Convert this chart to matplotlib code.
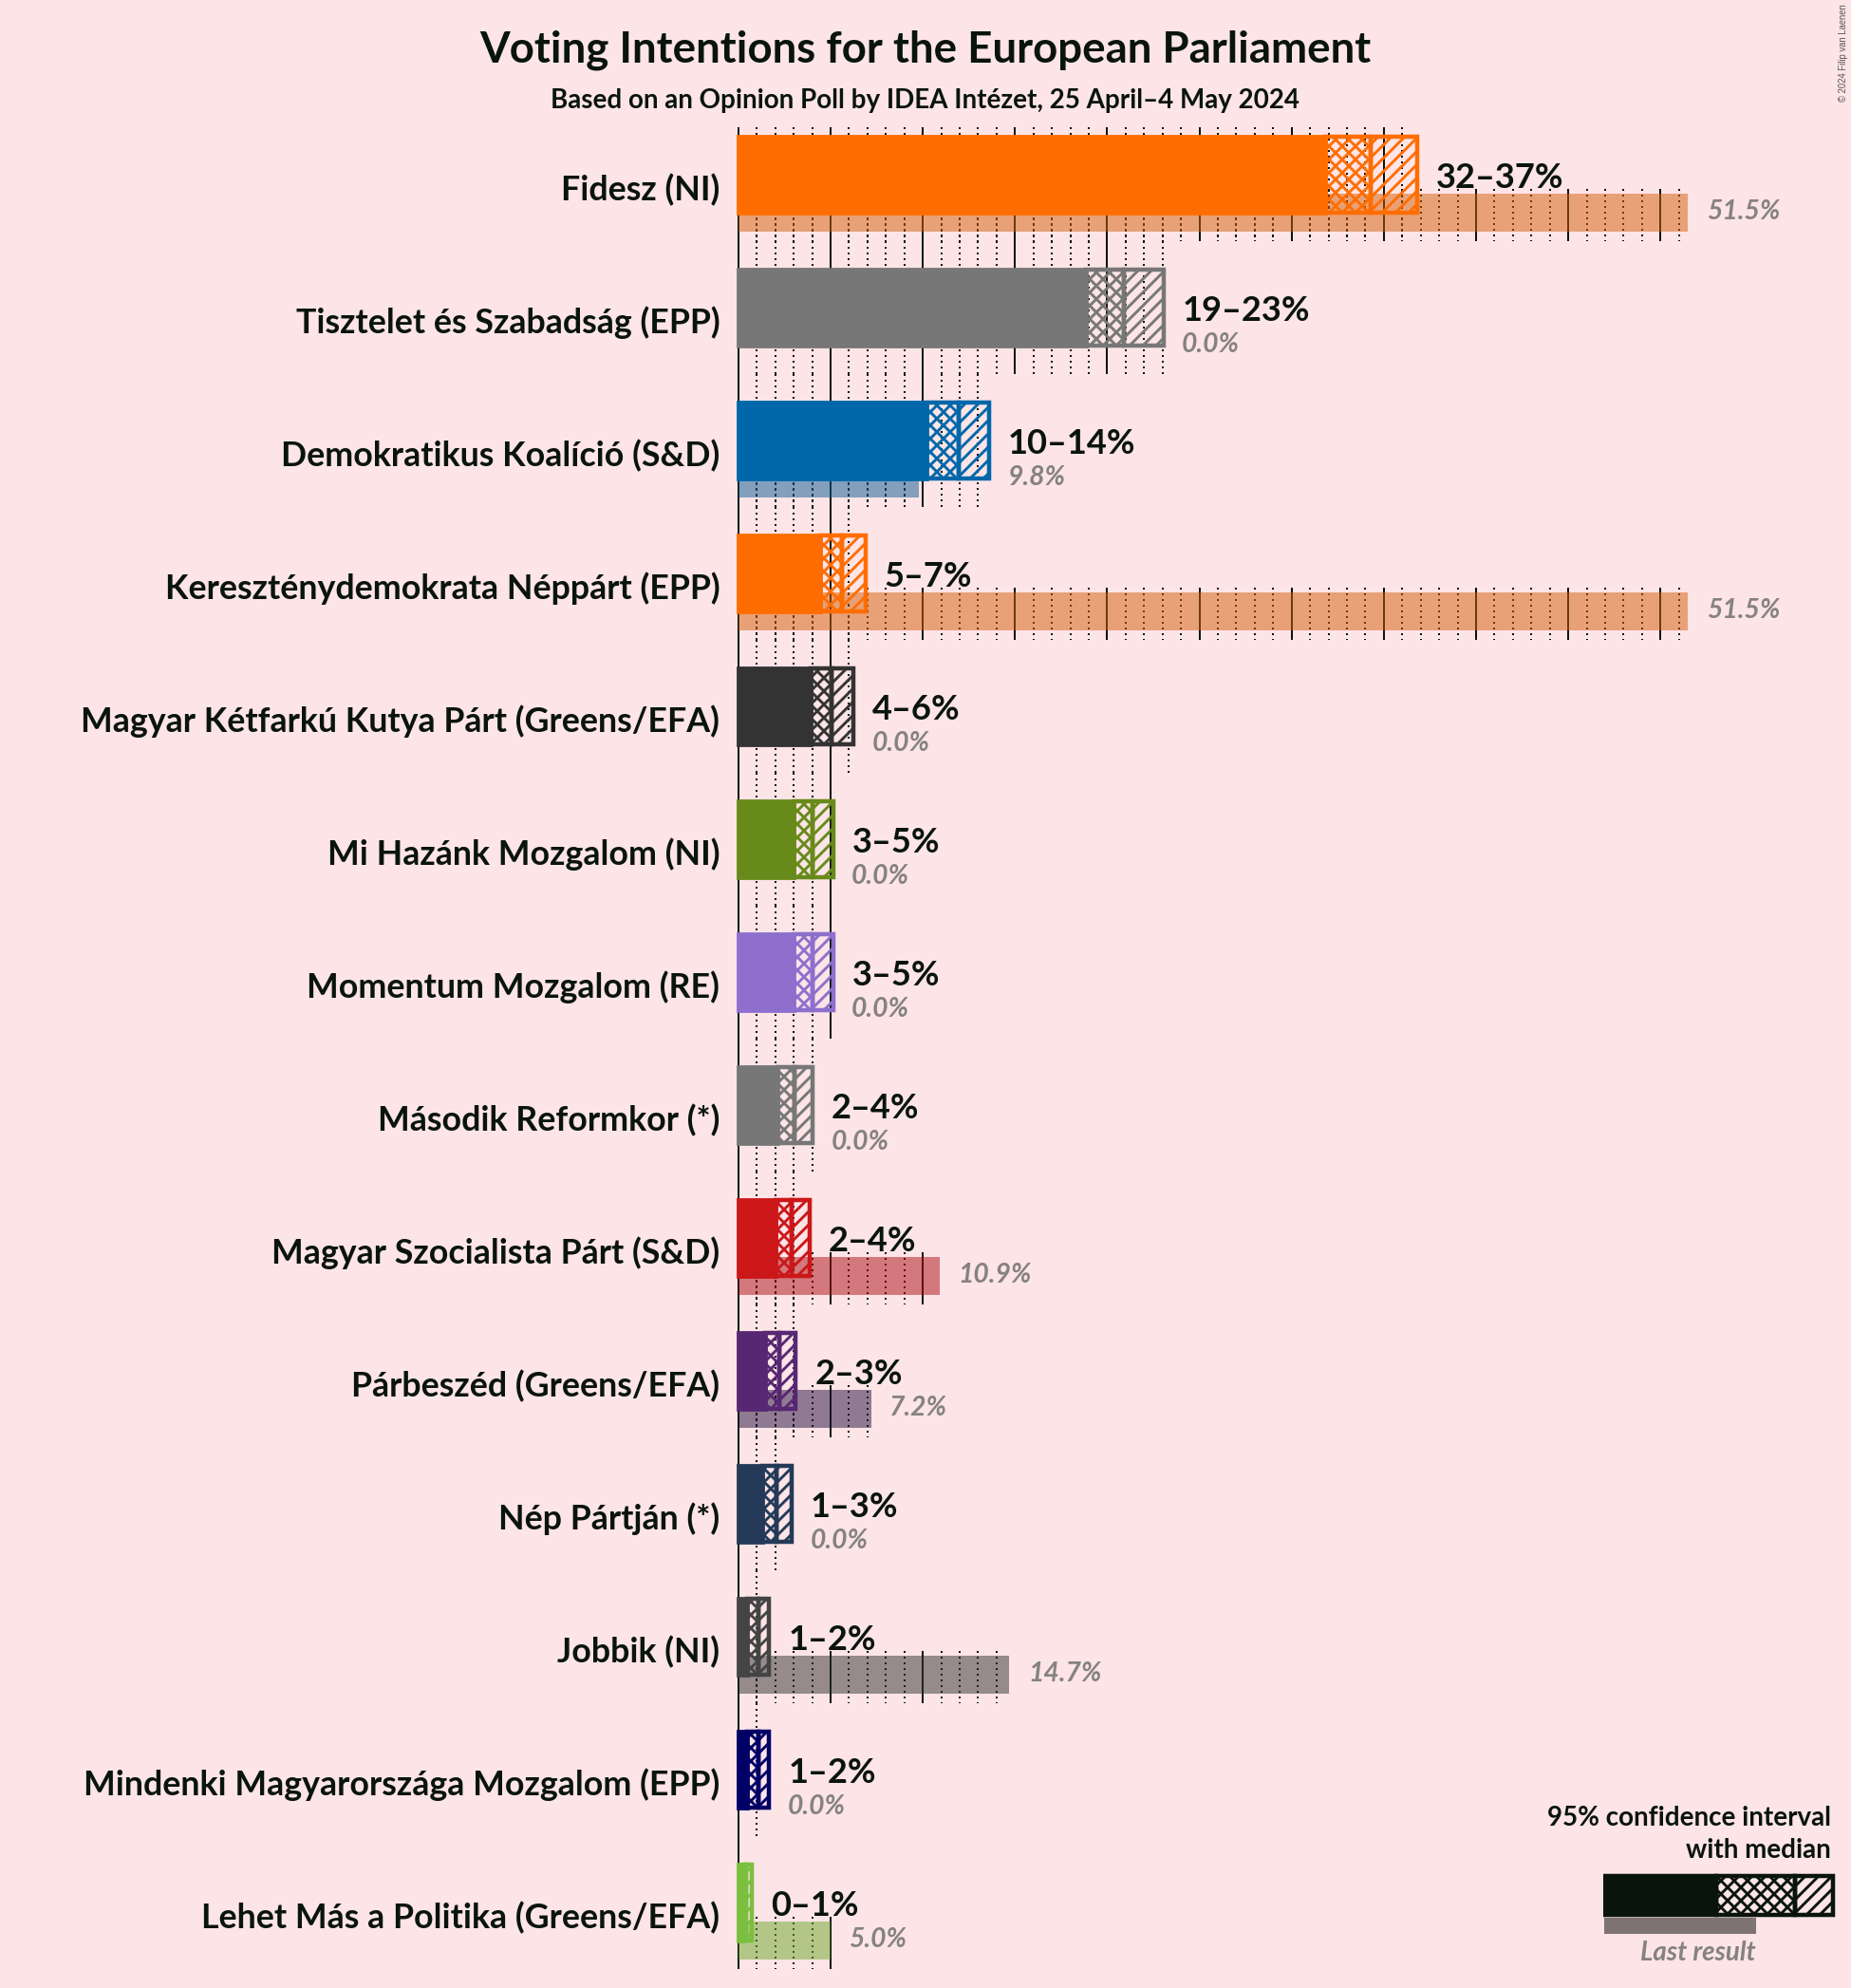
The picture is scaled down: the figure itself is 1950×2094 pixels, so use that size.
import matplotlib
matplotlib.use('Agg')
import matplotlib.pyplot as plt
import numpy as np

W, H, DPI = 1950, 2094, 84

parties = [
    'Fidesz (NI)', 'Tisztelet és Szabadság (EPP)', 'Demokratikus Koalíció (S&D)',
    'Kereszténydemokrata Néppárt (EPP)', 'Magyar Kétfarkú Kutya Párt (Greens/EFA)',
    'Mi Hazánk Mozgalom (NI)', 'Momentum Mozgalom (RE)', 'Második Reformkor (*)',
    'Magyar Szocialista Párt (S&D)', 'Párbeszéd (Greens/EFA)', 'Nép Pártján (*)',
    'Jobbik (NI)', 'Mindenki Magyarországa Mozgalom (EPP)', 'Lehet Más a Politika (Greens/EFA)',
]
low = [31.8, 18.85, 10.2, 4.45, 3.9, 3.0, 3.0, 2.1, 2.0, 1.45, 1.3, 0.47, 0.47, 0.2]
median = [34.3, 20.9, 11.95, 5.6, 5.05, 4.0, 4.0, 3.03, 2.9, 2.2, 2.05, 1.1, 1.1, 0.42]
high = [36.8, 23.05, 13.6, 6.9, 6.25, 5.14, 5.14, 4.02, 3.87, 3.11, 2.88, 1.67, 1.67, 0.72]
last = [51.5, 0.0, 9.8, 51.5, 0.0, 0.0, 0.0, 0.0, 10.9, 7.2, 0.0, 14.7, 0.0, 5.0]
ranges = ['32–37%', '19–23%', '10–14%', '5–7%', '4–6%', '3–5%', '3–5%', '2–4%', '2–4%',
          '2–3%', '1–3%', '1–2%', '1–2%', '0–1%']
colors = ['#FF6D00', '#777777', '#0067AA', '#FF6D00', '#333333', '#688A1A', '#8E6FCE',
          '#777777', '#CC1719', '#582773', '#243A58', '#444444', '#000066', '#7ABF3E']
last_colors = ['#D66009', '#777777', '#0C5C91', '#D66009', '#333333', '#688A1A', '#8E6FCE',
               '#777777', '#AC0E15', '#26123F', '#243A58', '#323231', '#000066', '#6CAA2B']

BG = '#FCE4E7'
INK = '#0A140F'
GREY = '#858280'
px = 72 / DPI  # points per output pixel

plt.rcParams['font.family'] = ['Lato', 'DejaVu Sans']
plt.rcParams['hatch.linewidth'] = 2.9 * px

fig = plt.figure(figsize=(W / DPI, H / DPI), dpi=DPI, facecolor=BG)
ax = fig.add_axes([0, 0, 1, 1])
ax.axis('off')

# 19.43 pixels per percent, 140 pixels per row
X0, PER_PCT, Y0, PER_ROW = 777.8, 19.43, 184.0, 140.0
ax.set_xlim(-X0 / PER_PCT, (W - X0) / PER_PCT)
ax.set_ylim((H - Y0) / PER_ROW, -Y0 / PER_ROW)


def row_px(p):
    return p / PER_ROW


for i in range(len(parties)):
    top = max(i + row_px(-70.5), row_px(134 - Y0))
    bottom = i + row_px(69.5)
    # grid over the interval reaches the top of the row, grid for the last result only the lower part
    for reach, y_top in [(high[i], top), (last[i], i + row_px(14.5))]:
        for v in range(0, int(reach) + 1):
            if v % 5 == 0:
                ax.vlines(v, y_top, bottom, color=INK, lw=2 * px, zorder=1)
            else:
                ax.vlines(v, y_top, bottom, color=INK, lw=2 * px, linestyles=[(0, (1, 2))], zorder=1)

    if last[i] > 0:
        ax.barh(i + row_px(39.6), last[i], height=row_px(40), color=last_colors[i], alpha=0.5,
                lw=0, zorder=2)

    bar_h = row_px(80)
    ax.barh(i, low[i], height=bar_h, color=colors[i], edgecolor=colors[i], lw=4.8 * px, zorder=4)
    ax.barh(i, median[i] - low[i], left=low[i], height=bar_h, facecolor='none',
            edgecolor=colors[i], hatch='xx', lw=4.5 * px, zorder=3)
    ax.barh(i, high[i] - median[i], left=median[i], height=bar_h, facecolor='none',
            edgecolor=colors[i], hatch='//', lw=4.5 * px, zorder=3)

    ax.annotate(parties[i], (0, i + row_px(27)), xytext=(-19.5 * px, 0), textcoords='offset points',
                ha='right', va='baseline', fontsize=35.7 * px, fontweight='bold', color=INK)
    ax.annotate(ranges[i], (high[i], i + row_px(14)), xytext=(20 * px, 0), textcoords='offset points',
                ha='left', va='baseline', fontsize=36.3 * px, fontweight='bold', color=INK)
    ax.annotate(f'{last[i]:.1f}%', (max(high[i], last[i]), i + row_px(47)), xytext=(19.5 * px, 0),
                textcoords='offset points', ha='left', va='baseline', fontsize=28.3 * px,
                fontweight='bold', style='italic', color=GREY)

fig.text(974.5 / W, 1 - 65 / H, 'Voting Intentions for the European Parliament', ha='center',
         va='baseline', fontsize=45.7 * px, fontweight='bold', color=INK)
fig.text(974.5 / W, 1 - 114 / H, 'Based on an Opinion Poll by IDEA Intézet, 25 April–4 May 2024',
         ha='center', va='baseline', fontsize=27.8 * px, fontweight='bold', color=INK)
fig.text(1942 / W, 1 - 4 / H, '© 2024 Filip van Laenen', rotation=90, ha='center', va='top',
         fontsize=9.5 * px, family='Liberation Sans', color='#555555')

# legend key, on its own small axes
key_low, key_median, key_high, key_last = 119, 201.5, 242, 160
lax = fig.add_axes([1689 / W, 1 - 2040 / H, 261 / W, 70 / H])
lax.set_xlim(0, 261)
lax.set_ylim(70, 0)
lax.axis('off')
key_y, key_h = 26.5, 41
lax.barh(key_y, key_low, height=key_h, color=INK, edgecolor=INK, lw=4.5 * px, zorder=4)
lax.barh(key_y, key_median - key_low, left=key_low, height=key_h, facecolor='none', edgecolor=INK,
         hatch='xx', lw=4.5 * px, zorder=3)
lax.barh(key_y, key_high - key_median, left=key_median, height=key_h, facecolor='none', edgecolor=INK,
         hatch='//', lw=4.5 * px, zorder=3)
lax.barh(58, key_last, height=17, left=1, color='#040401', alpha=0.5, lw=0, zorder=2)

fig.text(1929 / W, 1 - 1923 / H, '95% confidence interval', ha='right', va='baseline',
         fontsize=27.7 * px, fontweight='bold', color=INK)
fig.text(1929 / W, 1 - 1957 / H, 'with median', ha='right', va='baseline',
         fontsize=27.7 * px, fontweight='bold', color=INK)
fig.text(1789 / W, 1 - 2065 / H, 'Last result', ha='center', va='baseline', fontsize=27.7 * px,
         fontweight='bold', style='italic', color=GREY)

fig.savefig('out.png', dpi=DPI, facecolor=BG)
